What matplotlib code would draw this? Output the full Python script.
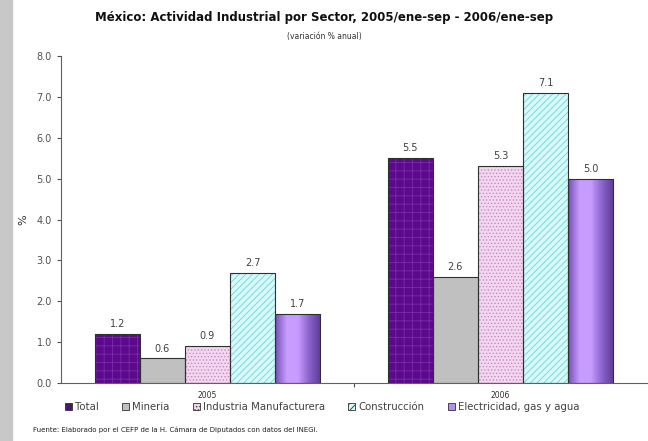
import numpy as np
import matplotlib.pyplot as plt
from matplotlib.colors import LinearSegmentedColormap
from matplotlib.patches import Patch, Rectangle

# Datos
periodos = ['2005', '2006']
sectores = ['Total', 'Mineria', 'Industria Manufacturera', 'Construcción',
            'Electricidad, gas y agua']
total = [1.2, 5.5]
mineria = [0.6, 2.6]
industria = [0.9, 5.3]
construccion = [2.7, 7.1]
electricidad = [1.7, 5.0]
series = [total, mineria, industria, construccion, electricidad]

# estilo de cada serie: relleno, color del trama, trama
colores = ['#5c0a8c', '#c0c0c0', '#f3d6ef', '#d4fafa', '#b48ef0']
tramas_col = ['#7a2aaa', '#c0c0c0', '#c58ac0', '#7ccfd8', '#b48ef0']
tramas = ['++', None, '.....', '/////', None]

plt.rcParams['hatch.linewidth'] = 0.6

fig = plt.figure(figsize=(6.48, 4.41), dpi=100)
fig.patches.append(Rectangle((0, 0), 12 / 648, 1, transform=fig.transFigure,
                             color='#c8c8c8', zorder=0))

ax = fig.add_axes([61 / 648, 1 - 383 / 441, 586 / 648, 327 / 441])

# degradado para la barra de electricidad (oscuro - claro - oscuro)
degradado = LinearSegmentedColormap.from_list(
    'elec', ['#7650b8', '#c89cff', '#c89cff', '#8a62cc', '#5e3c96'])

x = np.arange(len(periodos))
ancho = 0.154
for i, vals in enumerate(series):
    pos = x + (i - 2) * ancho
    barras = ax.bar(pos, vals, ancho, color=colores[i], edgecolor=tramas_col[i],
                    hatch=tramas[i], linewidth=0, zorder=2)
    if i == 4:
        for b in barras:
            x0, w, h = b.get_x(), b.get_width(), b.get_height()
            img = ax.imshow(np.linspace(0, 1, 64).reshape(1, -1), cmap=degradado,
                            extent=[x0, x0 + w, 0, h], aspect='auto', zorder=2.5)
            img.set_clip_path(b)
    ax.bar(pos, vals, ancho, fill=False, edgecolor='#303030',
           linewidth=0.8, zorder=3)
    for p, v in zip(pos, vals):
        ax.text(p, v + 0.12, f'{v:.1f}', ha='center', va='bottom',
                fontsize=7, color='#404040')

ax.set_xlim(-0.5, 1.5)
ax.set_ylim(0, 8)
ax.set_yticks(np.arange(0, 8.1, 1))
ax.set_yticklabels([f'{t:.1f}' for t in np.arange(0, 8.1, 1)])
ax.tick_params(axis='y', labelsize=7, colors='#505050', length=3, width=0.8)
ax.set_xticks([0.5])
ax.set_xticklabels([''])
ax.tick_params(axis='x', length=3, width=0.8, colors='#505050')
ax.spines['top'].set_visible(False)
ax.spines['right'].set_visible(False)
ax.spines['left'].set_color('#606060')
ax.spines['bottom'].set_color('#606060')
ax.set_ylabel('%', fontsize=8, color='#303030', labelpad=6)

for xi, etiqueta in zip(x, periodos):
    ax.text(xi, -0.2, etiqueta, ha='center', va='top', fontsize=5.5,
            color='#303030')

fig.text(0.5, 1 - 17 / 441, 'México: Actividad Industrial por Sector, 2005/ene-sep - 2006/ene-sep',
         ha='center', va='center', fontsize=8.5, fontweight='bold', color='#101010')
fig.text(0.5, 1 - 37 / 441, '(variación % anual)', ha='center', va='center',
         fontsize=5.5, color='#303030')

handles = [Patch(facecolor=colores[i], edgecolor='#303030', hatch=tramas[i],
                 linewidth=0.6) for i in range(5)]
fig.legend(handles, sectores, loc='center', bbox_to_anchor=(322 / 648, 1 - 407 / 441),
           ncol=5, frameon=False, fontsize=7.3, handlelength=0.7, handleheight=0.7,
           handletextpad=0.3, columnspacing=2.3, labelcolor='#404040')

fig.text(33 / 648, 1 - 430 / 441,
         'Fuente: Elaborado por el CEFP de la H. Cámara de Diputados con datos del INEGI.',
         ha='left', va='center', fontsize=5, color='#202020')

plt.savefig('out.png', dpi=100)
